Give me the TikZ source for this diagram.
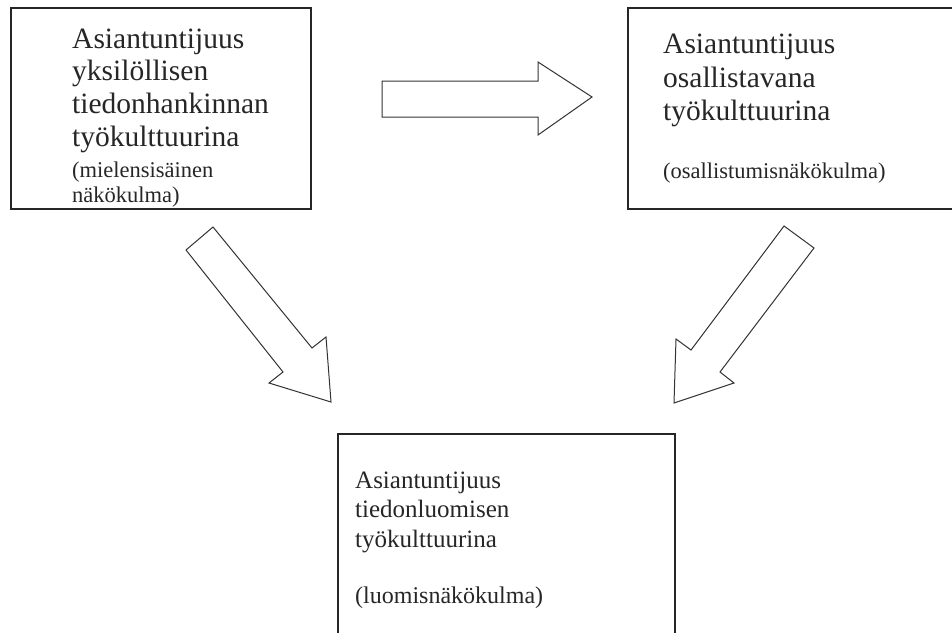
\documentclass[tikz,border=0pt]{standalone}
\usepackage{fontspec}
\setmainfont{Liberation Serif}
\begin{document}
\begin{tikzpicture}[x=1pt,y=-1pt,
  panel/.style={draw=black!85, line width=1.6pt, anchor=north west, inner sep=0pt},
  blockarrow/.style={draw=black!80, line width=1pt, fill=white, line join=miter},
  txt/.style={anchor=base west, inner sep=0pt, text=black!85},
  big/.style={txt, font=\fontsize{29.5}{33}\selectfont},
  mid/.style={txt, font=\fontsize{25}{30}\selectfont},
  small/.style={txt, font=\fontsize{22.5}{25}\selectfont},
  smallb/.style={txt, font=\fontsize{24}{28}\selectfont}]
\useasboundingbox (0,0) rectangle (952,632);
\clip (0,0) rectangle (952,632);

% the three panels
\node[panel, minimum width=300pt, minimum height=201pt] (box1) at (10,7) {};
\node[panel, minimum width=340pt, minimum height=201pt] (box2) at (627,7) {};
\node[panel, minimum width=337pt, minimum height=220pt] (box3) at (337,433) {};

% panel 1 text
\node[big] (b1a) at (72,48) {Asiantuntijuus};
\node[big] (b1b) at (72,80) {yksilöllisen};
\node[big] (b1c) at (72,113) {tiedonhankinnan};
\node[big] (b1d) at (72,146) {työkulttuurina};
\node[small] (b1e) at (72,177) {(mielensisäinen};
\node[small] (b1f) at (72,202) {näkökulma)};

% panel 2 text
\node[big] (b2a) at (663,53) {Asiantuntijuus};
\node[big] (b2b) at (663,87) {osallistavana};
\node[big] (b2c) at (663,120) {työkulttuurina};
\node[small] (b2d) at (663,178) {(osallistumisnäkökulma)};

% panel 3 text
\node[mid] (b3a) at (355,488) {Asiantuntijuus};
\node[mid] (b3b) at (355,517) {tiedonluomisen};
\node[mid] (b3c) at (355,547) {työkulttuurina};
\node[smallb] (b3d) at (355,603) {(luomisnäkökulma)};

% block arrows between the panels
\draw[blockarrow] (382,81) -- (538,81) -- (538,62) -- (592,97) -- (538,135)
  -- (538,117) -- (382,117) -- cycle;
\draw[blockarrow] (213,227) -- (312,348) -- (326,337) -- (331,402) -- (269,383)
  -- (283,372) -- (186,250) -- cycle;
\draw[blockarrow] (784,226) -- (814,248) -- (720,372) -- (734,383) -- (674,403)
  -- (676,339) -- (691,350) -- cycle;
\end{tikzpicture}
\end{document}
